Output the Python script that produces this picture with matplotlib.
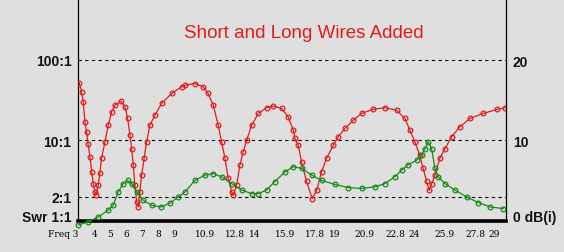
import matplotlib
matplotlib.use("Agg")
import matplotlib.pyplot as plt
from matplotlib.ticker import NullLocator

# SWR curve (red)
swr_freq = [3.05, 3.20, 3.30, 3.41, 3.51, 3.61, 3.72, 3.83, 3.93, 4.03, 4.09, 4.24, 4.34,
            4.45, 4.66, 4.86, 5.08, 5.28, 5.66, 5.91, 6.08, 6.22, 6.33, 6.43, 6.53, 6.64,
            6.74, 6.84, 6.95, 7.11, 7.26, 7.47, 7.78, 8.20, 8.83, 9.45, 9.66, 10.28, 10.80,
            11.11, 11.43, 11.74, 11.95, 12.16, 12.36, 12.58, 12.68, 12.89, 13.09, 13.30,
            13.51, 13.83, 14.24, 14.76, 15.18, 15.70, 16.11, 16.43, 16.53, 16.74, 16.95,
            17.26, 17.61, 17.89, 18.20, 18.51, 18.93, 19.24, 19.66, 20.18, 20.70, 21.43,
            22.16, 22.89, 23.41, 23.72, 24.03, 24.34, 24.55, 24.76, 24.93, 25.08, 25.28,
            25.59, 25.91, 26.33, 26.84, 27.47, 28.30, 29.14, 29.66]
swr = [52, 40, 30, 17, 12.8, 8.9, 6.3, 4.1, 2.9, 2.3, 2.09, 2.8, 3.9,
       6.0, 9.6, 15.4, 22.6, 27.3, 30.6, 26.1, 18.7, 11.6, 7.9, 4.9, 2.8, 1.73,
       1.50, 2.3, 3.7, 6.0, 9.6, 15.4, 20.5, 28.7, 38.2, 46.2, 48.4, 50.8, 46.2,
       38.2, 27.3, 15.4, 9.6, 6.0, 3.4, 2.3, 2.09, 2.8, 4.9, 7.2,
       10.0, 15.4, 21.6, 25.4, 26.6, 24.9, 19.6, 13.4, 10.6, 8.7, 5.4,
       3.1, 1.90, 2.4, 4.1, 6.0, 8.7, 11.1, 14.1, 17.8, 21.6, 24.4,
       25.4, 23.7, 18.7, 13.4, 9.6, 6.5, 4.5, 3.1, 2.4, 2.9, 3.7,
       6.0, 7.9, 11.1, 14.7, 18.7, 21.6, 24.2, 25.4]

# gain curve (green), dB(i)
gain_freq = [3.00, 3.61, 4.24, 4.86, 5.18, 5.49, 5.80, 6.08, 6.33, 6.64, 7.05, 7.58, 8.16,
             8.72, 9.24, 9.66, 10.28, 10.91, 11.43, 11.95, 12.58, 13.20, 13.83, 14.24,
             14.76, 15.28, 15.91, 16.43, 16.95, 17.58, 18.20, 19.03, 19.86, 20.70, 21.53,
             22.16, 22.78, 23.22, 23.61, 24.14, 24.45, 24.66, 24.86, 25.08, 25.28, 25.49,
             25.91, 26.53, 27.26, 27.99, 28.72, 29.55]
gain = [-0.5, -0.1, 0.5, 1.35, 2.0, 3.6, 4.65, 5.05, 4.65, 3.6, 2.6, 1.95, 1.75,
        2.2, 3.0, 3.6, 5.05, 5.7, 5.9, 5.5, 4.65, 3.85, 3.4, 3.4,
        3.85, 4.9, 6.1, 6.75, 6.55, 5.7, 5.05, 4.55, 4.15, 4.05, 4.25,
        4.65, 5.5, 6.35, 7.0, 7.55, 8.2, 9.0, 9.85, 9.0, 6.55, 5.5,
        4.65, 3.85, 3.0, 2.3, 1.75, 1.55]

freq_ticks = [3, 4, 5, 6, 7, 8, 9, 10.9, 12.8, 14, 15.9, 17.8, 19, 20.9, 22.8, 24, 25.9, 27.8, 29]
freq_labels = ["Freq 3", "4", "5", "6", "7", "8", "9", "10.9", "12.8", "14", "15.9", "17.8",
               "19", "20.9", "22.8", "24", "25.9", "27.8", "29"]
swr_ticks = [1, 2, 10, 100]
swr_labels = ["Swr 1:1", "2:1", "10:1", "100:1"]
gain_ticks = [0, 10, 20]
gain_labels = ["0 dB(i)", "10", "20"]

bg = "#dfdfdf"
red = "#e31b1b"
green = "#168a16"

fig = plt.figure(figsize=(5.64, 2.53), dpi=100, facecolor=bg)
ax = fig.add_axes([0.139, 0.1225, 0.758, 0.8775])
ax.set_facecolor(bg)
ax.set_yscale("log")
ax.set_xlim(3, 29.72)
ax.set_ylim(1, 568)

for v in [2, 10, 100]:
    ax.axhline(v, color="black", lw=0.8, ls=(0, (3, 3)), zorder=1)

ax.plot(swr_freq, swr, color=red, lw=0.9, marker="o", ms=3.4, mfc="none",
        mec=red, mew=0.9, zorder=3)

ax.yaxis.set_minor_locator(NullLocator())
ax.set_yticks(swr_ticks)
ax.set_yticklabels(swr_labels)
ax.tick_params(axis="y", length=0, pad=5, labelsize=10)
for t in ax.get_yticklabels():
    t.set_fontfamily("Liberation Sans")
    t.set_fontweight("bold")
    t.set_color("#111111")
ax.get_yticklabels()[0].set_verticalalignment("baseline")

ax.set_xticks(freq_ticks)
ax.set_xticklabels(freq_labels)
ax.tick_params(axis="x", length=0, pad=6, labelsize=6.5)
for t in ax.get_xticklabels():
    t.set_fontfamily("DejaVu Serif")
    t.set_color("#000000")
ax.get_xticklabels()[0].set_horizontalalignment("right")

ax2 = ax.twinx()
ax2.set_ylim(0, 27.6)
ax2.plot(gain_freq, gain, color=green, lw=0.9, marker="o", ms=3.4, mfc="none",
         mec=green, mew=0.9, clip_on=False, zorder=3)
ax2.set_yticks(gain_ticks)
ax2.set_yticklabels(gain_labels)
ax2.tick_params(axis="y", length=0, pad=5, labelsize=10)
for t in ax2.get_yticklabels():
    t.set_fontfamily("Liberation Sans")
    t.set_fontweight("bold")
    t.set_color("#111111")
ax2.get_yticklabels()[0].set_verticalalignment("baseline")

for a in (ax, ax2):
    a.spines["top"].set_visible(False)
ax.spines["right"].set_visible(False)
ax2.spines["left"].set_visible(False)
ax2.spines["bottom"].set_visible(False)
ax.spines["left"].set_linewidth(0.9)
ax2.spines["right"].set_linewidth(0.9)
ax.spines["bottom"].set_linewidth(2.6)

fig.text(0.539, 0.848, "Short and Long Wires Added", color=red, fontsize=13.5,
         family="Liberation Sans", ha="center", va="baseline")

fig.savefig("out.png", dpi=100, facecolor=bg)
